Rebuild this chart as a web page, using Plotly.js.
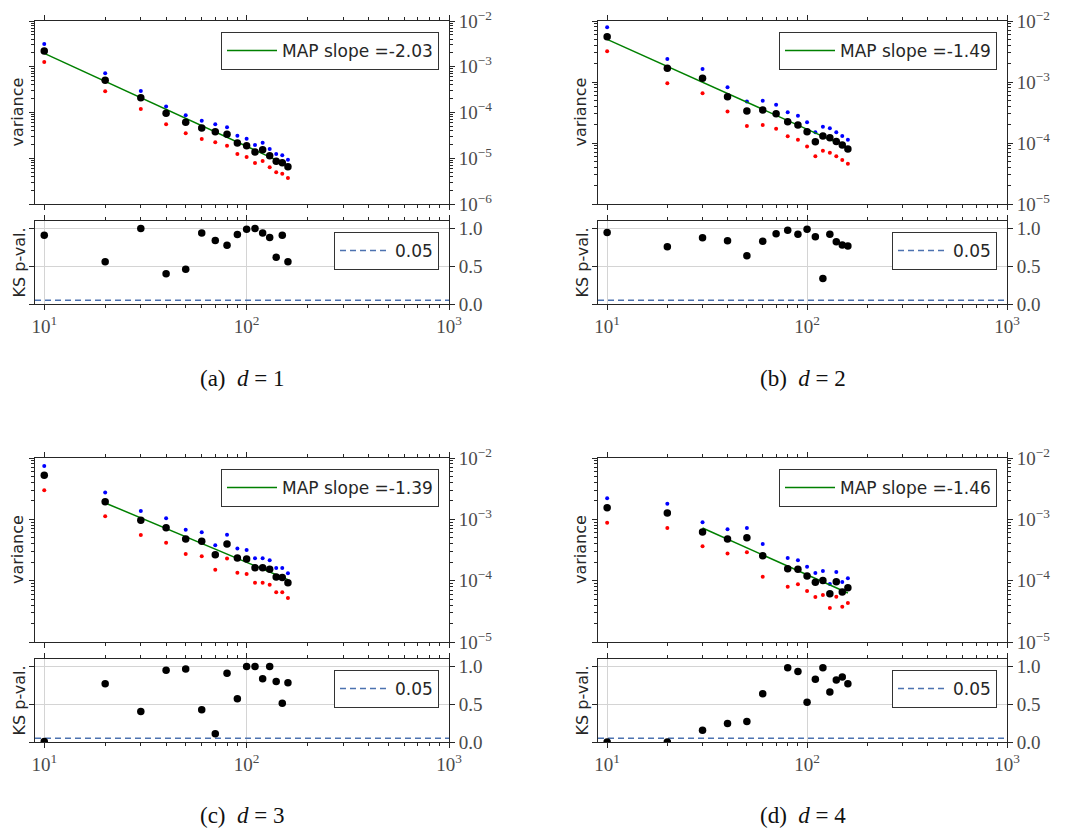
<!DOCTYPE html>
<html><head><meta charset="utf-8">
<script src="https://cdn.plot.ly/plotly-3.0.1.min.js"></script>
<style>body{margin:0;background:#fff}</style></head>
<body><div id="chart" style="width:1067px;height:837px"></div>
<script>
// ---------- data ----------
const nValues = [10,20,30,40,50,60,70,80,90,100,110,120,130,140,150,160];

const captions = ['(a)  <i>d</i> = 1', '(b)  <i>d</i> = 2', '(c)  <i>d</i> = 3', '(d)  <i>d</i> = 4'];
const slopeNames = ['MAP slope =-2.03', 'MAP slope =-1.49', 'MAP slope =-1.39', 'MAP slope =-1.46'];
const thresholdName = '0.05';
const thresholdValue = 0.05;

// panel (a) d=1
const meanA  = [2.21e-3,5.05e-4,2.11e-4,9.6e-5,6.1e-5,4.58e-5,3.81e-5,3.33e-5,2.15e-5,1.88e-5,1.37e-5,1.54e-5,1.14e-5,8.57e-6,8.0e-6,6.55e-6];
const upperA = [3.14e-3,7.19e-4,2.95e-4,1.36e-4,8.67e-5,6.62e-5,5.52e-5,4.75e-5,3.11e-5,2.67e-5,1.95e-5,2.19e-5,1.59e-5,1.24e-5,1.16e-5,9.3e-6];
const lowerA = [1.27e-3,2.9e-4,1.19e-4,5.52e-5,3.51e-5,2.63e-5,2.23e-5,1.88e-5,1.24e-5,1.06e-5,7.87e-6,8.7e-6,6.34e-6,4.92e-6,4.59e-6,3.7e-6];
const ksA    = [0.91,0.56,1.0,0.40,0.46,0.94,0.84,0.78,0.92,0.99,1.0,0.94,0.88,0.62,0.91,0.56];
const fitXA  = [10,160];
const fitYA  = [1.96e-3,7.0e-6];

// panel (b) d=2
const meanB  = [5.53e-3,1.68e-3,1.15e-3,5.75e-4,3.35e-4,3.48e-4,3.03e-4,2.24e-4,1.97e-4,1.53e-4,1.05e-4,1.30e-4,1.22e-4,1.06e-4,9.27e-5,7.97e-5];
const upperB = [7.87e-3,2.38e-3,1.63e-3,8.18e-4,4.77e-4,4.95e-4,4.25e-4,3.18e-4,2.81e-4,2.18e-4,1.50e-4,1.85e-4,1.74e-4,1.50e-4,1.30e-4,1.13e-4];
const lowerB = [3.18e-3,9.5e-4,6.52e-4,3.27e-4,1.90e-4,1.97e-4,1.72e-4,1.29e-4,1.13e-4,8.8e-5,6.04e-5,7.48e-5,6.95e-5,6.04e-5,5.26e-5,4.58e-5];
const ksB    = [0.947,0.759,0.877,0.838,0.640,0.833,0.930,0.978,0.925,0.991,0.890,0.338,0.925,0.825,0.781,0.768];
const fitXB  = [10,160];
const fitYB  = [5.0e-3,8.4e-5];

// panel (c) d=3
const meanC  = [5.21e-3,1.94e-3,9.64e-4,7.31e-4,4.78e-4,4.38e-4,2.65e-4,3.96e-4,2.34e-4,2.26e-4,1.63e-4,1.63e-4,1.53e-4,1.15e-4,1.13e-4,9.27e-5];
const upperC = [7.41e-3,2.75e-3,1.37e-3,1.04e-3,6.79e-4,6.14e-4,3.77e-4,5.62e-4,3.33e-4,3.16e-4,2.31e-4,2.31e-4,2.15e-4,1.61e-4,1.61e-4,1.32e-4];
const lowerC = [2.97e-3,1.12e-3,5.56e-4,4.17e-4,2.72e-4,2.49e-4,1.51e-4,2.29e-4,1.35e-4,1.28e-4,9.27e-5,9.27e-5,8.6e-5,6.46e-5,6.46e-5,5.21e-5];
const ksC    = [0.005,0.771,0.405,0.952,0.969,0.427,0.110,0.912,0.573,1.0,1.0,0.837,1.0,0.802,0.515,0.784];
const fitXC  = [20,160];
const fitYC  = [1.85e-3,1.04e-4];

// panel (d) d=4 (no value at n=70)
const meanD  = [1.55e-3,1.27e-3,6.21e-4,4.78e-4,5.02e-4,2.56e-4,null,1.57e-4,1.53e-4,1.19e-4,9.4e-5,1.01e-4,6.14e-5,9.63e-5,6.53e-5,7.69e-5];
const upperD = [2.20e-3,1.80e-3,8.93e-4,6.87e-4,7.22e-4,3.96e-4,null,2.34e-4,2.15e-4,1.69e-4,1.33e-4,1.44e-4,8.83e-5,1.38e-4,9.5e-5,1.09e-4];
const lowerD = [8.83e-4,7.22e-4,3.63e-4,2.76e-4,2.90e-4,1.16e-4,null,7.98e-5,8.71e-5,6.79e-5,5.42e-5,5.84e-5,3.58e-5,5.48e-5,3.77e-5,4.33e-5];
const ksD    = [0.0,0.0,0.157,0.245,0.271,0.638,null,0.983,0.934,0.528,0.830,0.983,0.664,0.821,0.860,0.773];
const fitXD  = [30,160];
const fitYD  = [7.22e-4,6.3e-5];

// ticks
const xTickVals = [10,100,1000];
const xTickText = ['10<sup>1</sup>','10<sup>2</sup>','10<sup>3</sup>'];
const varTickValsA = [1e-6,1e-5,1e-4,1e-3,1e-2];
const varTickTextA = ['10<sup>\u22126</sup>','10<sup>\u22125</sup>','10<sup>\u22124</sup>','10<sup>\u22123</sup>','10<sup>\u22122</sup>'];
const varTickVals = [1e-5,1e-4,1e-3,1e-2];
const varTickText = ['10<sup>\u22125</sup>','10<sup>\u22124</sup>','10<sup>\u22123</sup>','10<sup>\u22122</sup>'];
const ksTickVals = [0,0.5,1.0];
const ksTickText = ['0.0','0.5','1.0'];

// ---------- build ----------
const W = 1067, H = 837;
const panels = [
  {mean:meanA, up:upperA, lo:lowerA, ks:ksA, fx:fitXA, fy:fitYA, yr:[-6,-2], tv:varTickValsA, tt:varTickTextA, col:0, row:0},
  {mean:meanB, up:upperB, lo:lowerB, ks:ksB, fx:fitXB, fy:fitYB, yr:[-5,-2], tv:varTickVals, tt:varTickText, col:1, row:0},
  {mean:meanC, up:upperC, lo:lowerC, ks:ksC, fx:fitXC, fy:fitYC, yr:[-5,-2], tv:varTickVals, tt:varTickText, col:0, row:1},
  {mean:meanD, up:upperD, lo:lowerD, ks:ksD, fx:fitXD, fy:fitYD, yr:[-5,-2], tv:varTickVals, tt:varTickText, col:1, row:1}
];
const colX = [[35,449],[598,1007]];
const topY = [[21,204],[458,642]];
const botY = [[221,304],[659,742]];
const capY = [378,815];

const px = (a,b) => [a/W, b/W];
const py = (t,b) => [1-b/H, 1-t/H];

function minorDecades(lo, hi){ const v=[]; for(let e=lo;e<hi;e++){ for(let k=2;k<=9;k++) v.push(k*Math.pow(10,e)); } return v; }

const lineCol = '#262626';
const tickFont = {family:'Liberation Serif, DejaVu Serif, serif', size:19, color:'#4a4a4a'};
const base = {showline:true, linecolor:lineCol, linewidth:1, mirror:'ticks', ticks:'outside', ticklen:5,
  tickwidth:1, tickcolor:lineCol, zeroline:false, tickfont:tickFont, fixedrange:true};

const traces = [];
const layout = {width:W, height:H, margin:{l:0,r:0,t:0,b:0}, paper_bgcolor:'#fff', plot_bgcolor:'#fff',
  showlegend:true, annotations:[]};

panels.forEach((p,i)=>{
  const it = 2*i+1, ib = 2*i+2;
  const xs = colX[p.col];
  const xrng = [Math.log10(9), 3];
  const xMinor = {ticks:'outside', ticklen:3, tickwidth:1, tickcolor:lineCol, tickmode:'array', tickvals:minorDecades(0,3).filter(v=>v>9), showgrid:false};
  layout['xaxis'+it] = Object.assign({}, base, {type:'log', range:xrng, domain:px(xs[0],xs[1]), anchor:'y'+it,
    tickmode:'array', tickvals:xTickVals, showticklabels:false, showgrid:false, minor:xMinor});
  layout['yaxis'+it] = Object.assign({}, base, {type:'log', range:p.yr, domain:py(topY[p.row][0],topY[p.row][1]), anchor:'x'+it,
    side:'right', tickmode:'array', tickvals:p.tv, ticktext:p.tt, showgrid:false,
    minor:{ticks:'outside', ticklen:3, tickwidth:1, tickcolor:lineCol, tickmode:'array', tickvals:minorDecades(p.yr[0],p.yr[1]), showgrid:false}});
  layout['xaxis'+ib] = Object.assign({}, base, {type:'log', range:xrng, domain:px(xs[0],xs[1]), anchor:'y'+ib,
    tickmode:'array', tickvals:xTickVals, ticktext:xTickText, showgrid:true, gridcolor:'#d4d4d4', gridwidth:1, minor:xMinor});
  layout['yaxis'+ib] = Object.assign({}, base, {range:[0,1.1], domain:py(botY[p.row][0],botY[p.row][1]), anchor:'x'+ib,
    side:'right', tickmode:'array', tickvals:ksTickVals, ticktext:ksTickText, showgrid:true, gridcolor:'#d4d4d4', gridwidth:1});

  const lt = i===0 ? 'legend' : 'legend'+it;
  const lb = 'legend'+ib;
  const legBase = {xanchor:'right', yanchor:'top', bgcolor:'#fff', bordercolor:'#333', borderwidth:1, itemwidth:50,
    font:{family:'DejaVu Sans, sans-serif', size:17, color:'#262626'}};
  layout[lt] = Object.assign({}, legBase, {x:(xs[1]-10)/W, y:1-(topY[p.row][0]+11)/H});
  layout[lb] = Object.assign({}, legBase, {x:(xs[1]-10)/W, y:1-(botY[p.row][0]+11)/H});

  traces.push({x:nValues, y:p.up, xaxis:'x'+it, yaxis:'y'+it, mode:'markers', type:'scatter', showlegend:false,
    marker:{color:'#0000ff', size:4}, hoverinfo:'skip'});
  traces.push({x:nValues, y:p.lo, xaxis:'x'+it, yaxis:'y'+it, mode:'markers', type:'scatter', showlegend:false,
    marker:{color:'#ff0000', size:4}, hoverinfo:'skip'});
  traces.push({x:p.fx, y:p.fy, xaxis:'x'+it, yaxis:'y'+it, mode:'lines', type:'scatter', name:slopeNames[i], legend:lt,
    line:{color:'#008000', width:1.5}});
  traces.push({x:nValues, y:p.mean, xaxis:'x'+it, yaxis:'y'+it, mode:'markers', type:'scatter', showlegend:false,
    marker:{color:'#000', size:7.5}});
  traces.push({x:[9,1000], y:[thresholdValue,thresholdValue], xaxis:'x'+ib, yaxis:'y'+ib, mode:'lines', type:'scatter',
    name:thresholdName, legend:lb, line:{color:'#4c72b0', width:1.5, dash:'6px,4px'}});
  traces.push({x:nValues, y:p.ks, xaxis:'x'+ib, yaxis:'y'+ib, mode:'markers', type:'scatter', showlegend:false,
    marker:{color:'#000', size:7.5}});

  const capX = (xs[0]+xs[1])/2;
  layout.annotations.push({xref:'paper', yref:'paper', x:capX/W, y:1-capY[p.row]/H, text:captions[i], showarrow:false,
    xanchor:'center', yanchor:'middle', font:{family:'Liberation Serif, DejaVu Serif, serif', size:23, color:'#111'}});
  layout.annotations.push({xref:'paper', yref:'paper', x:(xs[0]-18)/W, y:1-((topY[p.row][0]+topY[p.row][1])/2)/H, text:'variance',
    textangle:-90, showarrow:false, xanchor:'center', yanchor:'middle', font:{family:'DejaVu Sans, sans-serif', size:16, color:'#262626'}});
  layout.annotations.push({xref:'paper', yref:'paper', x:(xs[0]-16)/W, y:1-((botY[p.row][0]+botY[p.row][1])/2)/H, text:'KS p-val.',
    textangle:-90, showarrow:false, xanchor:'center', yanchor:'middle', font:{family:'DejaVu Sans, sans-serif', size:16, color:'#262626'}});
});

Plotly.newPlot('chart', traces, layout, {displayModeBar:false, staticPlot:true});
</script></body></html>
